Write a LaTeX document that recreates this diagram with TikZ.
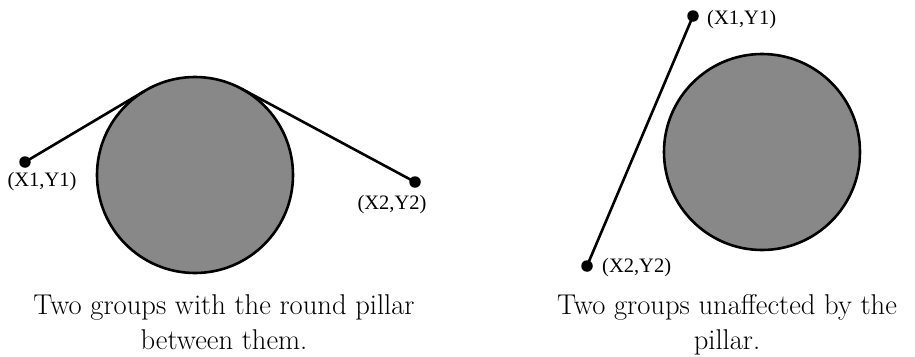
\documentclass[tikz,border=0pt]{standalone}
\usepackage{fontspec}
\newfontfamily\timesf{Liberation Serif}
\usetikzlibrary{calc}
\definecolor{pillarfill}{RGB}{136,136,136}
\begin{document}
\begin{tikzpicture}[x=1pt,y=-1pt,
  pillarc/.style={circle,draw=black,line width=2.6pt,fill=pillarfill,minimum size=196pt,inner sep=0pt,outer sep=0pt},
  dotc/.style={circle,fill=black,minimum size=11.5pt,inner sep=0pt},
  lbl/.style={font=\timesf\fontsize{20.5}{24}\selectfont,inner sep=0pt},
  captext/.style={font=\fontsize{28.6}{35}\selectfont,align=center,inner sep=0pt},
  conn/.style={line width=2.6pt}]
\useasboundingbox (0,0) rectangle (915,356);
% left diagram
\node[pillarc] (c1) at (195,175) {};
\node[dotc] (a1) at (25,162) {};
\node[dotc] (a2) at (415,182) {};
\coordinate (t1) at (tangent cs:node=c1,point={(a1)},solution=2);
\coordinate (t2) at (tangent cs:node=c1,point={(a2)},solution=1);
\draw[conn] (a1.center) -- (t1);
\draw[conn] (a2.center) -- (t2);
\node[lbl] (la1) at (42,182) {(X1,Y1)};
\node[lbl] (la2) at (392,205) {(X2,Y2)};
\node[captext,anchor=north] (cap1) at (224,294.5) {Two groups with the round pillar\\between them.};
% right diagram
\node[pillarc] (c2) at (762,152) {};
\node[dotc] (b1) at (693,16) {};
\node[dotc] (b2) at (587,266) {};
\draw[conn] (b1.center) -- (b2.center);
\node[lbl,anchor=west] (lb1) at (707,20) {(X1,Y1)};
\node[lbl,anchor=west] (lb2) at (602,268) {(X2,Y2)};
\node[captext,anchor=north] (cap2) at (727,294.5) {Two groups unaffected by the\\pillar.};
\end{tikzpicture}
\end{document}
